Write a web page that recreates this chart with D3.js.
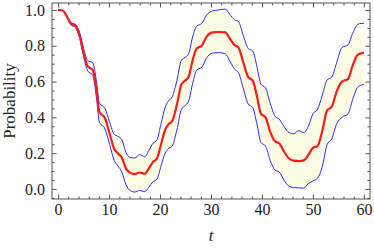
<!DOCTYPE html>
<html>
<head>
<meta charset="utf-8">
<script src="https://cdn.jsdelivr.net/npm/d3@7"></script>
<style>
  body { margin: 0; background: #fff; }
  svg { display: block; }
  .tick text { font-family: "Liberation Serif", "DejaVu Serif", serif; font-size: 16px; fill: #222; }
</style>
</head>
<body>
<div id="chart"></div>
<script>
// time knots
var tVals = [0, 0.9, 1.7, 2.5, 3.4, 4.2, 5.0, 5.8, 6.8, 7.5, 8.1, 9.2, 10.1, 11.0, 11.7,
  12.5, 13.3, 14.2, 15.0, 16.0, 17.0, 17.8, 18.6, 19.4, 20.2, 21.0, 21.6, 22.4, 23.3, 24.2,
  24.9, 25.6, 26.4, 27.2, 28.2, 29.1, 30.3, 31.5, 32.8, 33.7, 34.6, 35.4, 36.3, 37.3, 38.2,
  39.0, 39.8, 40.7, 41.6, 42.6, 43.4, 44.3, 45.3, 46.2, 47.2, 48.2, 49.1, 50.0, 50.9, 51.8,
  52.8, 53.7, 54.6, 55.7, 56.9, 57.8, 58.8, 59.5, 60]

// red curve
var meanP = [1.0, 0.997, 0.965, 0.925, 0.912, 0.86, 0.76, 0.685, 0.665, 0.56, 0.43, 0.395, 0.31, 0.225, 0.2,
  0.175, 0.115, 0.09, 0.083, 0.092, 0.085, 0.115, 0.15, 0.17, 0.25, 0.33, 0.36, 0.38, 0.47, 0.585,
  0.605, 0.625, 0.72, 0.785, 0.80, 0.85, 0.875, 0.877, 0.875, 0.84, 0.805, 0.79, 0.71, 0.625, 0.605,
  0.52, 0.42, 0.40, 0.32, 0.265, 0.255, 0.21, 0.17, 0.158, 0.156, 0.16, 0.19, 0.23, 0.24, 0.32,
  0.44, 0.46, 0.54, 0.60, 0.615, 0.69, 0.75, 0.758, 0.76]

// blue curves
var upperP = [1.0, 0.998, 0.968, 0.929, 0.92, 0.875, 0.785, 0.718, 0.705, 0.605, 0.48, 0.45, 0.375, 0.305, 0.295,
  0.275, 0.205, 0.175, 0.173, 0.192, 0.18, 0.215, 0.255, 0.275, 0.365, 0.455, 0.49, 0.515, 0.605, 0.72,
  0.735, 0.755, 0.85, 0.91, 0.925, 0.97, 0.995, 1.0, 1.005, 0.975, 0.945, 0.935, 0.86, 0.785, 0.77,
  0.685, 0.585, 0.565, 0.48, 0.405, 0.39, 0.35, 0.315, 0.308, 0.326, 0.315, 0.35, 0.42, 0.445, 0.52,
  0.61, 0.625, 0.70, 0.79, 0.805, 0.87, 0.92, 0.925, 0.925]

var lowerP = [1.0, 0.996, 0.961, 0.917, 0.902, 0.845, 0.74, 0.66, 0.635, 0.515, 0.375, 0.335, 0.25, 0.16, 0.13,
  0.095, 0.025, -0.01, -0.017, -0.008, -0.015, 0.01, 0.04, 0.055, 0.13, 0.20, 0.225, 0.24, 0.33, 0.445,
  0.465, 0.49, 0.59, 0.665, 0.68, 0.73, 0.76, 0.762, 0.755, 0.715, 0.67, 0.65, 0.565, 0.475, 0.455,
  0.365, 0.26, 0.24, 0.16, 0.105, 0.095, 0.05, 0.015, 0.008, 0.006, 0.005, 0.03, 0.045, 0.06, 0.12,
  0.25, 0.28, 0.36, 0.40, 0.42, 0.50, 0.57, 0.58, 0.585]

var xMajor = [0, 10, 20, 30, 40, 50, 60]
var yMajor = [0, 0.2, 0.4, 0.6, 0.8, 1.0]

var width = 374, height = 248
var plotLeft = 52, plotRight = 370, plotTop = 3, plotBottom = 199

var svg = d3.select("#chart").append("svg")
  .attr("width", width)
  .attr("height", height)

var x = d3.scaleLinear().domain([-1.2, 61.2]).range([plotLeft, plotRight])
var y = d3.scaleLinear().domain([-0.056, 1.039]).range([plotBottom, plotTop])

var data = tVals.map(function (t, i) {
  return { t: t, m: meanP[i], u: upperP[i], l: lowerP[i] }
})

// band
svg.append("path")
  .datum(data)
  .attr("fill", "#fdfde6")
  .attr("d", d3.area()
    .curve(d3.curveMonotoneX)
    .x(d => x(d.t))
    .y0(d => y(d.l))
    .y1(d => y(d.u)))

var line = function (key) {
  return d3.line().curve(d3.curveMonotoneX).x(d => x(d.t)).y(d => y(d[key]))
}

svg.append("path").datum(data)
  .attr("fill", "none").attr("stroke", "#2a2aff").attr("stroke-width", 1)
  .attr("d", line("u"))
svg.append("path").datum(data)
  .attr("fill", "none").attr("stroke", "#2a2aff").attr("stroke-width", 1)
  .attr("d", line("l"))
svg.append("path").datum(data)
  .attr("fill", "none").attr("stroke", "#ff1a1a").attr("stroke-width", 2.2)
  .attr("d", line("m"))

// minor tick positions
var xMinor = d3.range(0, 62, 2).filter(v => xMajor.indexOf(v) < 0)
var yMinor = d3.range(-1, 21).map(v => v * 0.05).filter(v => Math.abs(v * 5 - Math.round(v * 5)) > 1e-6)

var frameColor = "#555"

function addAxis(axis, tx, ty, labels) {
  var g = svg.append("g").attr("transform", "translate(" + tx + "," + ty + ")").call(axis)
  g.select(".domain").remove()
  g.selectAll(".tick line").attr("stroke", frameColor)
  if (!labels) g.selectAll(".tick text").remove()
  return g
}

// bottom
addAxis(d3.axisBottom(x).tickValues(xMajor).tickSize(-4.5).tickSizeOuter(0).tickPadding(5).tickFormat(d3.format("d")), 0, plotBottom, true)
addAxis(d3.axisBottom(x).tickValues(xMinor).tickSize(-2.5).tickSizeOuter(0).tickFormat(""), 0, plotBottom, false)
// top
addAxis(d3.axisTop(x).tickValues(xMajor).tickSize(-4.5).tickSizeOuter(0), 0, plotTop, false)
addAxis(d3.axisTop(x).tickValues(xMinor).tickSize(-2.5).tickSizeOuter(0), 0, plotTop, false)
// left
addAxis(d3.axisLeft(y).tickValues(yMajor).tickSize(-4.5).tickSizeOuter(0).tickPadding(7).tickFormat(d3.format(".1f")), plotLeft, 0, true)
addAxis(d3.axisLeft(y).tickValues(yMinor).tickSize(-2.5).tickSizeOuter(0), plotLeft, 0, false)
// right
addAxis(d3.axisRight(y).tickValues(yMajor).tickSize(-4.5).tickSizeOuter(0), plotRight, 0, false)
addAxis(d3.axisRight(y).tickValues(yMinor).tickSize(-2.5).tickSizeOuter(0), plotRight, 0, false)

svg.append("rect")
  .attr("x", plotLeft).attr("y", plotTop)
  .attr("width", plotRight - plotLeft).attr("height", plotBottom - plotTop)
  .attr("fill", "none").attr("stroke", frameColor).attr("stroke-width", 1)

// axis labels
svg.append("text")
  .attr("transform", "translate(15," + ((plotTop + plotBottom) / 2) + ") rotate(-90)")
  .attr("text-anchor", "middle")
  .style("font-family", "'Liberation Serif', serif")
  .style("font-size", "17px")
  .attr("fill", "#222")
  .text("Probability")

svg.append("text")
  .attr("x", x(30))
  .attr("y", 241)
  .attr("text-anchor", "middle")
  .style("font-family", "'Liberation Serif', serif")
  .style("font-size", "17px")
  .style("font-style", "italic")
  .attr("fill", "#222")
  .text("t")
</script>
</body>
</html>
